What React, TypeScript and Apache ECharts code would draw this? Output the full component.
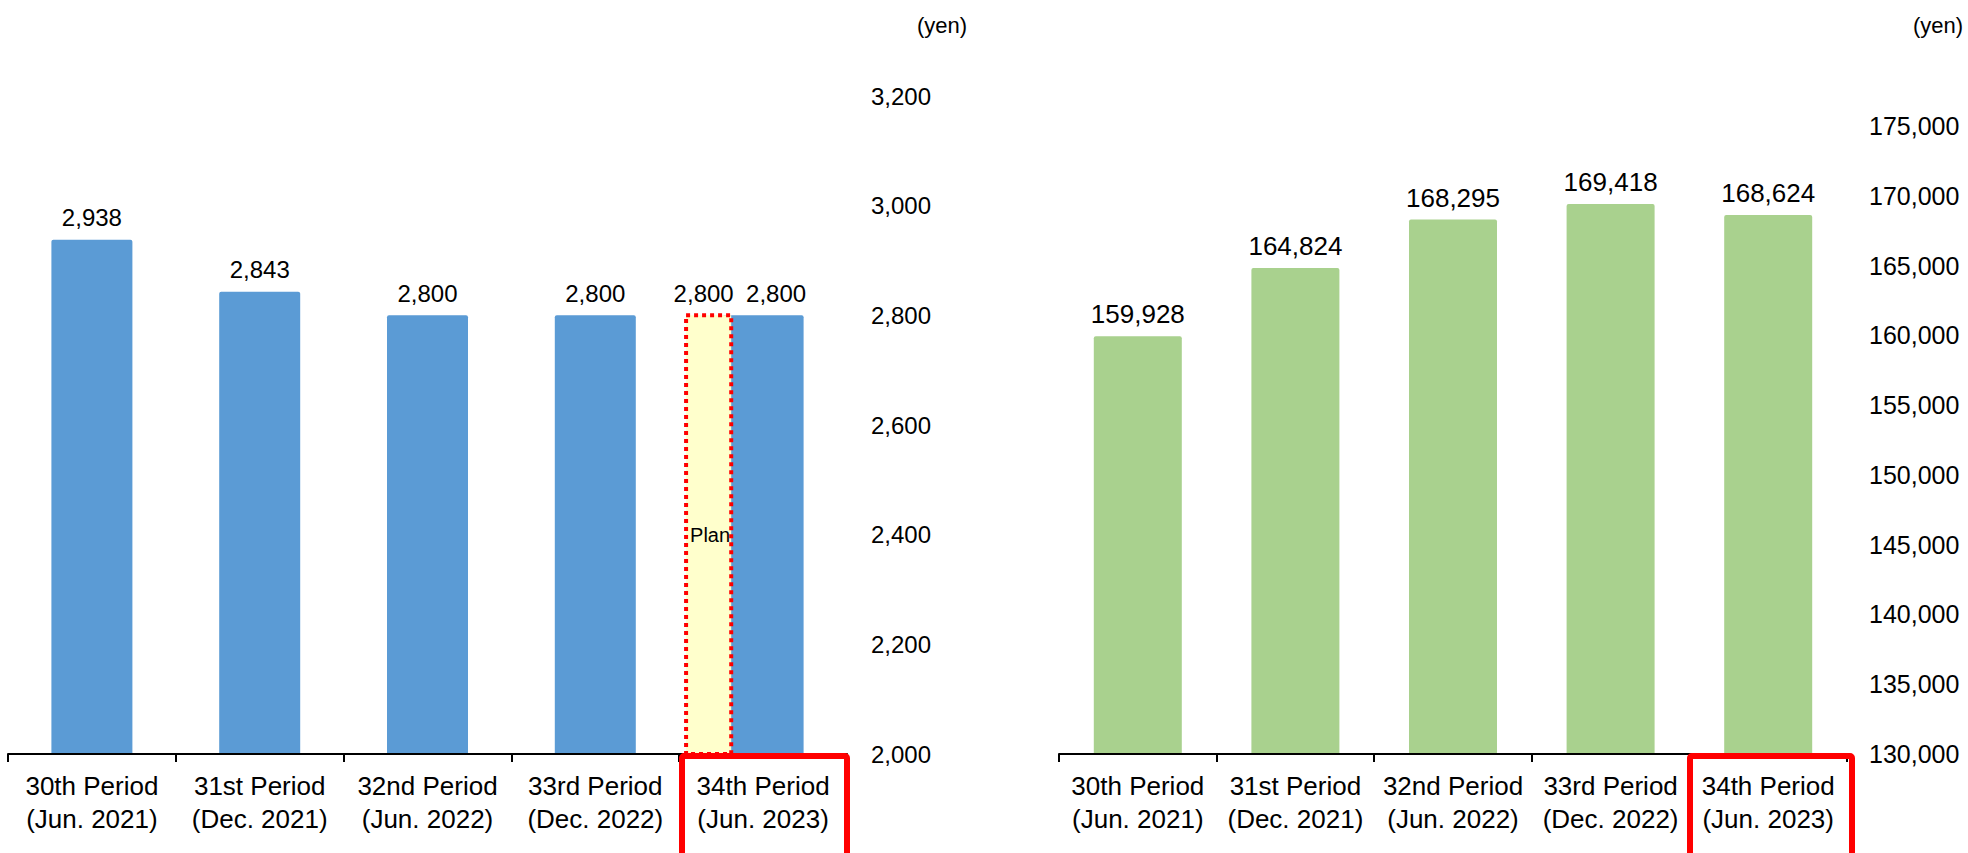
import React, { useEffect, useRef } from "react";
import * as echarts from "echarts";

const categories = [
  "30th Period\n(Jun. 2021)",
  "31st Period\n(Dec. 2021)",
  "32nd Period\n(Jun. 2022)",
  "33rd Period\n(Dec. 2022)",
  "34th Period\n(Jun. 2023)",
];
const dividendValues = [2938, 2843, 2800, 2800, 2800];
const planIndex = 4;
const planValue = 2800;
const navValues = [159928, 164824, 168295, 169418, 168624];
const leftAxisMin = 2000;
const leftAxisMax = 3200;
const leftAxisInterval = 200;
const rightAxisMin = 130000;
const rightAxisMax = 175000;
const rightAxisInterval = 5000;
const unitLabel = "(yen)";
const planLabel = "Plan";

const FONT = "'Liberation Sans', Arial, Helvetica, sans-serif";
const fmt = (v: number) => Number(v).toLocaleString("en-US");

export default function App() {
  const ref = useRef<HTMLDivElement>(null);

  useEffect(() => {
    const chart = echarts.init(ref.current!, null, { renderer: "svg" });

    const xAxisFor = (gridIndex: number) => ({
      type: "category",
      gridIndex,
      data: categories,
      axisLine: { show: true, lineStyle: { color: "#000", width: 2 } },
      axisTick: { show: true, length: 8, interval: 0, lineStyle: { color: "#000", width: 2 } },
      axisLabel: {
        interval: 0,
        margin: 15,
        fontSize: 26,
        lineHeight: 33,
        color: "#000",
        fontFamily: FONT,
      },
      z: 3,
    });

    const yAxisFor = (
      gridIndex: number,
      min: number,
      max: number,
      interval: number,
      fontSize: number,
      margin: number
    ) => ({
      type: "value",
      gridIndex,
      position: "right",
      min,
      max,
      interval,
      axisLine: { show: false },
      axisTick: { show: false },
      splitLine: { show: false },
      axisLabel: {
        margin,
        fontSize,
        color: "#000",
        fontFamily: FONT,
        formatter: (v: number) => fmt(v),
      },
    });

    const barLabel = (fontSize: number, distance: number) => ({
      show: true,
      position: "top",
      distance,
      fontSize,
      color: "#000",
      fontFamily: FONT,
      formatter: (p: any) => fmt(p.value),
    });

    const option: any = {
      animation: false,
      backgroundColor: "#fff",
      grid: [
        { left: 8, right: 1968 - 847, top: 96, bottom: 99 },
        { left: 1059, right: 1968 - 1847, top: 126, bottom: 99 },
      ],
      xAxis: [xAxisFor(0), xAxisFor(1)],
      yAxis: [
        yAxisFor(0, leftAxisMin, leftAxisMax, leftAxisInterval, 24, 24),
        yAxisFor(1, rightAxisMin, rightAxisMax, rightAxisInterval, 25, 22),
      ],
      series: [
        {
          type: "bar",
          xAxisIndex: 0,
          yAxisIndex: 0,
          barWidth: 81,
          itemStyle: { color: "#5B9BD5", borderRadius: [2, 2, 0, 0] },
          label: barLabel(24, 10),
          data: dividendValues.map((v, i) =>
            i === planIndex ? { value: v, label: { offset: [13, 0] } } : v
          ),
          z: 2,
        },
        {
          type: "custom",
          xAxisIndex: 0,
          yAxisIndex: 0,
          z: 5,
          data: [[planIndex, planValue]],
          renderItem: (params: any, api: any) => {
            const idx = api.value(0);
            const val = api.value(1);
            const top = api.coord([idx, val]);
            const base = api.coord([idx, leftAxisMin]);
            const band = api.size([1, 0])[0];
            const l = top[0] - 0.459 * band;
            const r = top[0] - 0.19 * band;
            const shape = { x: l, y: top[1], width: r - l, height: base[1] - top[1] };
            return {
              type: "group",
              children: [
                { type: "rect", shape, style: { fill: "#FFFFCC", stroke: "none" } },
                {
                  type: "text",
                  style: {
                    text: planLabel,
                    x: l + 4,
                    y: (top[1] + base[1]) / 2,
                    align: "left",
                    verticalAlign: "middle",
                    fontSize: 20,
                    fontFamily: FONT,
                    fill: "#000",
                  },
                },
                {
                  type: "rect",
                  shape,
                  style: { fill: "none", stroke: "#FF0000", lineWidth: 4, lineDash: [4, 4] },
                },
                {
                  type: "text",
                  style: {
                    text: fmt(val),
                    x: (l + r) / 2 - 5,
                    y: top[1] - 10,
                    align: "center",
                    verticalAlign: "bottom",
                    fontSize: 24,
                    fontFamily: FONT,
                    fill: "#000",
                  },
                },
              ],
            };
          },
        },
        {
          type: "bar",
          xAxisIndex: 1,
          yAxisIndex: 1,
          barWidth: 88,
          itemStyle: { color: "#A9D18E", borderRadius: [2, 2, 0, 0] },
          label: barLabel(26, 9),
          data: navValues,
          z: 2,
        },
      ],
      graphic: [
        {
          type: "text",
          x: 967,
          y: 25,
          style: {
            text: unitLabel,
            align: "right",
            verticalAlign: "middle",
            fontSize: 22,
            fontFamily: FONT,
            fill: "#000",
          },
        },
        {
          type: "text",
          x: 1963,
          y: 25,
          style: {
            text: unitLabel,
            align: "right",
            verticalAlign: "middle",
            fontSize: 22,
            fontFamily: FONT,
            fill: "#000",
          },
        },
        {
          type: "rect",
          z: 100,
          shape: { x: 682, y: 756, width: 165, height: 110, r: 2 },
          style: { fill: "none", stroke: "#FF0000", lineWidth: 6 },
        },
        {
          type: "rect",
          z: 100,
          shape: { x: 1690, y: 756, width: 162, height: 110, r: 2 },
          style: { fill: "none", stroke: "#FF0000", lineWidth: 6 },
        },
      ],
    };

    chart.setOption(option);
    return () => chart.dispose();
  }, []);

  return (
    <div
      ref={ref}
      style={{ position: "fixed", left: 0, top: 0, width: 1968, height: 853, background: "#fff" }}
    />
  );
}
